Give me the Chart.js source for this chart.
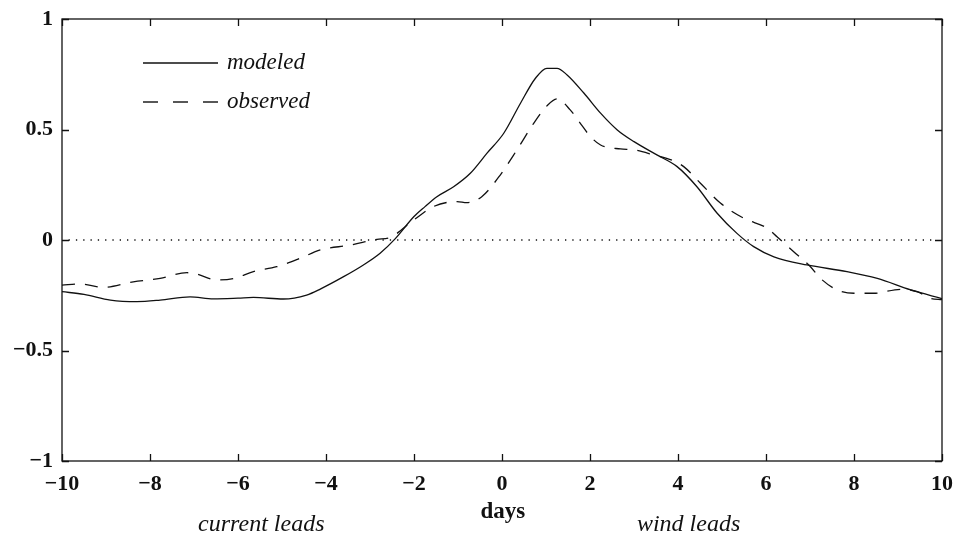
<!DOCTYPE html>
<html>
<head>
<meta charset="utf-8">
<script src="https://cdn.jsdelivr.net/npm/chart.js@4/dist/chart.umd.min.js"></script>
<style>
  html, body { margin: 0; padding: 0; background: #fff; }
  #wrap { width: 956px; height: 536px; position: relative; }
</style>
</head>
<body>
<div id="wrap"><canvas id="c" width="956" height="536"></canvas></div>
<script>
// ---- data ----
const modeledX = [-10, -9.5, -8.9, -8.3, -7.77, -7.09, -6.56, -6.0, -5.65, -4.97, -4.44, -4.13, -3.6, -3.15, -2.77, -2.43, -2.0, -1.75, -1.48, -1.1, -0.72, -0.34, 0.04, 0.42, 0.76, 1.02, 1.25, 1.48, 1.86, 2.24, 2.62, 3.0, 3.52, 3.98, 4.43, 4.89, 5.34, 5.72, 6.18, 6.93, 7.84, 8.53, 9.29, 10];
const modeledY = [-0.234, -0.246, -0.272, -0.279, -0.272, -0.257, -0.266, -0.263, -0.26, -0.267, -0.249, -0.222, -0.166, -0.113, -0.06, 0.005, 0.106, 0.151, 0.196, 0.241, 0.302, 0.393, 0.483, 0.619, 0.732, 0.777, 0.777, 0.747, 0.665, 0.574, 0.498, 0.445, 0.385, 0.332, 0.241, 0.121, 0.030, -0.030, -0.076, -0.113, -0.143, -0.174, -0.226, -0.265];

const observedX = [-10, -9.59, -9.06, -8.38, -7.77, -7.16, -6.94, -6.48, -6.1, -5.65, -5.12, -4.59, -4.13, -3.45, -2.84, -2.54, -2.01, -1.56, -1.02, -0.8, -0.46, -0.04, 0.34, 0.72, 1.02, 1.25, 1.55, 1.78, 2.01, 2.24, 2.69, 3.0, 3.45, 3.9, 4.13, 4.51, 4.97, 5.5, 6.03, 6.25, 6.63, 7.01, 7.24, 7.62, 8.0, 8.45, 9.06, 9.44, 9.74, 10];
const observedY = [-0.204, -0.199, -0.214, -0.189, -0.174, -0.148, -0.154, -0.181, -0.174, -0.143, -0.121, -0.083, -0.045, -0.023, 0.003, 0.012, 0.09, 0.151, 0.174, 0.169, 0.196, 0.294, 0.408, 0.528, 0.607, 0.639, 0.589, 0.528, 0.468, 0.43, 0.412, 0.408, 0.385, 0.358, 0.332, 0.257, 0.166, 0.098, 0.053, 0.015, -0.053, -0.121, -0.174, -0.226, -0.241, -0.241, -0.223, -0.234, -0.264, -0.27];

const zeroX = [-9.85, 9.85];
const zeroY = [0, 0];

const xTicks = [-10, -8, -6, -4, -2, 0, 2, 4, 6, 8, 10];
const yTicks = [-1, -0.5, 0, 0.5, 1];

const seriesNames = ['modeled', 'observed'];
const xAxisTitle = 'days';
const leftNote = 'current leads';
const rightNote = 'wind leads';

// ---- helpers ----
const toPts = (xs, ys) => xs.map((x, i) => ({ x: x, y: ys[i] }));
const fmt = v => String(v).replace('-', '\u2212');
const INK = '#111';
const SERIF = '"Liberation Serif", "DejaVu Serif", serif';

const decor = {
  id: 'decor',
  afterDraw(chart) {
    const ctx = chart.ctx;
    const a = chart.chartArea;
    const xs = chart.scales.x, ys = chart.scales.y;
    ctx.save();
    // frame
    ctx.strokeStyle = INK;
    ctx.lineWidth = 1.3;
    ctx.setLineDash([]);
    ctx.strokeRect(a.left, a.top, a.right - a.left, a.bottom - a.top);
    // inward ticks
    const tl = 7;
    ctx.beginPath();
    xTicks.forEach(v => {
      const p = Math.round(xs.getPixelForValue(v)) + 0.5;
      ctx.moveTo(p, a.bottom); ctx.lineTo(p, a.bottom - tl);
      ctx.moveTo(p, a.top); ctx.lineTo(p, a.top + tl);
    });
    yTicks.forEach(v => {
      const p = Math.round(ys.getPixelForValue(v)) + 0.5;
      ctx.moveTo(a.left, p); ctx.lineTo(a.left + tl, p);
      ctx.moveTo(a.right, p); ctx.lineTo(a.right - tl, p);
    });
    ctx.stroke();

    // legend
    ctx.font = 'italic 23px ' + SERIF;
    ctx.fillStyle = INK;
    ctx.textBaseline = 'alphabetic';
    ctx.textAlign = 'left';
    const lx0 = 143, lx1 = 218;
    const rows = [63, 102];
    ctx.lineWidth = 1.4;
    ctx.beginPath();
    ctx.setLineDash([]);
    ctx.moveTo(lx0, rows[0]); ctx.lineTo(lx1, rows[0]);
    ctx.stroke();
    ctx.beginPath();
    ctx.setLineDash([15, 15]);
    ctx.moveTo(lx0, rows[1]); ctx.lineTo(lx1, rows[1]);
    ctx.stroke();
    ctx.setLineDash([]);
    ctx.fillText(seriesNames[0], 227, rows[0] + 6);
    ctx.fillText(seriesNames[1], 227, rows[1] + 6);

    // axis title and notes below the axis
    ctx.textAlign = 'center';
    ctx.font = 'bold 23px ' + SERIF;
    ctx.fillText(xAxisTitle, xs.getPixelForValue(0.02), 518);
    ctx.font = 'italic 24px ' + SERIF;
    ctx.fillText(leftNote, xs.getPixelForValue(-5.47), 531);
    ctx.fillText(rightNote, xs.getPixelForValue(4.24), 531);
    ctx.restore();
  }
};

new Chart(document.getElementById('c'), {
  type: 'line',
  data: {
    datasets: [
      {
        label: seriesNames[0],
        data: toPts(modeledX, modeledY),
        borderColor: INK, borderWidth: 1.3,
        pointRadius: 0, fill: false,
        cubicInterpolationMode: 'monotone'
      },
      {
        label: seriesNames[1],
        data: toPts(observedX, observedY),
        borderColor: INK, borderWidth: 1.3, borderDash: [13, 10],
        pointRadius: 0, fill: false,
        cubicInterpolationMode: 'monotone'
      },
      {
        label: 'zero',
        data: toPts(zeroX, zeroY),
        borderColor: INK, borderWidth: 1.3, borderDash: [1.3, 6],
        pointRadius: 0, fill: false
      }
    ]
  },
  options: {
    responsive: false,
    animation: false,
    layout: { padding: { top: 19, right: 14, left: 0, bottom: 0 } },
    plugins: { legend: { display: false }, tooltip: { enabled: false } },
    scales: {
      x: {
        type: 'linear', min: -10, max: 10,
        afterBuildTicks: s => { s.ticks = xTicks.map(v => ({ value: v })); },
        afterFit: s => { s.height = 75; s.paddingLeft = 0; s.paddingRight = 0; },
        grid: { display: false, drawTicks: false },
        border: { display: false },
        ticks: {
          color: INK, padding: 10, maxRotation: 0, autoSkip: false,
          font: { family: SERIF, size: 22, weight: 'bold' },
          callback: v => fmt(v)
        }
      },
      y: {
        type: 'linear', min: -1, max: 1,
        afterBuildTicks: s => { s.ticks = yTicks.map(v => ({ value: v })); },
        afterFit: s => { s.width = 62; s.paddingTop = 0; s.paddingBottom = 0; },
        grid: { display: false, drawTicks: false },
        border: { display: false },
        ticks: {
          color: INK, padding: 9, autoSkip: false,
          font: { family: SERIF, size: 22, weight: 'bold' },
          callback: v => fmt(v)
        }
      }
    }
  },
  plugins: [decor]
});
</script>
</body>
</html>
